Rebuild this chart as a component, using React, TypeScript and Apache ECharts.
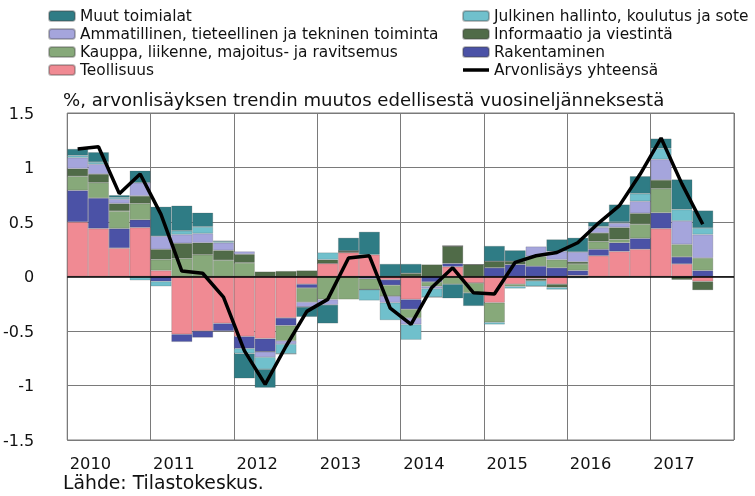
import React, { useEffect, useRef } from 'react';
import * as echarts from 'echarts';

const years = ['2010', '2011', '2012', '2013', '2014', '2015', '2016', '2017'];
const quarters = ['Q1', 'Q2', 'Q3', 'Q4'];
const categories = years.flatMap((y) => quarters.map((q) => `${y}${q}`));

// Contributions by industry (percentage points), 2010Q1 .. 2017Q3
const teollisuus = [0.50, 0.44, 0.26, 0.45, 0.055, -0.53, -0.50, -0.43, -0.55, -0.57, -0.38, -0.07, 0.12, 0.22, 0.20, -0.03, -0.21, 0, 0.09, -0.06, -0.24, -0.07, -0.02, -0.07, 0.01, 0.19, 0.23, 0.25, 0.44, 0.115, -0.045];
const rakentaminen = [0.29, 0.28, 0.18, 0.07, -0.045, -0.07, -0.06, -0.07, -0.11, -0.12, -0.07, -0.035, 0, 0, -0.02, -0.05, -0.09, -0.05, 0.03, 0, 0.08, 0.11, 0.095, 0.08, 0.045, 0.06, 0.08, 0.10, 0.145, 0.065, 0.055];
const kauppa = [0.13, 0.14, 0.16, 0.15, 0.10, 0.165, 0.20, 0.15, 0.125, 0, -0.14, -0.13, -0.21, -0.21, -0.10, -0.10, -0.08, -0.04, -0.07, -0.09, -0.18, -0.02, 0.09, 0.075, 0.06, 0.07, 0.03, 0.13, 0.22, 0.115, 0.115];
const informaatio = [0.07, 0.08, 0.07, 0.07, 0.095, 0.14, 0.11, 0.09, 0.08, 0.045, 0.05, 0.055, 0.035, 0.015, 0, 0, 0.03, 0.11, 0.16, 0.11, 0.06, 0.03, -0.02, -0.03, 0.02, 0.08, 0.11, 0.10, 0.08, -0.03, -0.08];
const ammatillinen = [0.10, 0.09, 0.04, 0.12, 0.12, 0.08, 0.085, 0.07, 0.025, -0.05, -0.03, -0.045, -0.05, 0, 0, -0.06, -0.06, -0.02, 0, 0, 0, 0, 0.09, 0.075, 0.09, 0.05, 0.04, 0.11, 0.19, 0.215, 0.215];
const julkinen = [0.02, 0.02, 0.015, -0.035, -0.045, 0.035, 0.06, 0.015, -0.045, -0.11, -0.09, 0, 0.065, 0, -0.10, -0.16, -0.14, -0.08, 0, 0, -0.02, -0.02, -0.05, -0.02, -0.015, 0.01, 0.01, 0.07, 0.10, 0.105, 0.06];
const muut = [0.06, 0.09, 0.02, 0.11, 0.27, 0.23, 0.13, 0, -0.23, -0.17, 0, -0.09, -0.17, 0.12, 0.21, 0.115, 0.085, 0, -0.13, -0.12, 0.14, 0.10, 0, 0.11, 0.13, 0.04, 0.16, 0.16, 0.09, 0.275, 0.16];
const yhteensa = [1.17, 1.19, 0.76, 0.94, 0.57, 0.05, 0.03, -0.19, -0.68, -0.99, -0.64, -0.32, -0.21, 0.17, 0.19, -0.29, -0.44, -0.10, 0.08, -0.15, -0.16, 0.13, 0.19, 0.22, 0.31, 0.49, 0.65, 0.94, 1.27, 0.85, 0.48];

const N_MUUT = 'Muut toimialat';
const N_JULK = 'Julkinen hallinto, koulutus ja sote';
const N_AMM = 'Ammatillinen, tieteellinen ja tekninen toiminta';
const N_INFO = 'Informaatio ja viestintä';
const N_KAUP = 'Kauppa, liikenne, majoitus- ja ravitsemus';
const N_RAK = 'Rakentaminen';
const N_TEOL = 'Teollisuus';
const N_TOT = 'Arvonlisäys yhteensä';

const TITLE = '%, arvonlisäyksen trendin muutos edellisestä vuosineljänneksestä';
const SOURCE = 'Lähde: Tilastokeskus.';

const FONT = '"DejaVu Sans", "Liberation Sans", Arial, sans-serif';
const LINE_ICON = 'path://M0,0 L0.01,0 L0,0.01 Z M0,3.3 L26,3.3 L26,6.7 L0,6.7 Z M26,10 L25.99,10 L26,9.99 Z';

export default function App() {
  const ref = useRef<HTMLDivElement>(null);
  useEffect(() => {
    const chart = echarts.init(ref.current as HTMLDivElement, null, { renderer: 'svg' });
    const bar = (name: string, color: string, data: number[]) => ({
      name,
      type: 'bar',
      stack: 'total',
      data,
      barCategoryGap: '0%',
      itemStyle: { color, borderColor: 'rgba(70,70,70,0.35)', borderWidth: 0.6 },
    });
    const legendText = { fontSize: 15.4, lineHeight: 18, color: '#111', fontFamily: FONT };
    chart.setOption({
      animation: false,
      textStyle: { fontFamily: FONT },
      title: {
        text: TITLE,
        left: 58,
        top: 85,
        textStyle: { fontSize: 18.1, fontWeight: 'normal', color: '#111', fontFamily: FONT },
      },
      legend: [
        {
          orient: 'vertical',
          left: 48,
          top: 7,
          padding: 0,
          itemWidth: 26,
          itemHeight: 10,
          itemGap: 0,
          data: [N_MUUT, N_AMM, N_KAUP, N_TEOL],
          textStyle: legendText,
        },
        {
          orient: 'vertical',
          left: 462,
          top: 7,
          padding: 0,
          itemWidth: 26,
          itemHeight: 10,
          itemGap: 0,
          data: [N_JULK, N_INFO, N_RAK, { name: N_TOT, icon: LINE_ICON }],
          textStyle: legendText,
        },
      ],
      grid: { left: 65, right: 21, top: 113, bottom: 56, show: true, borderColor: '#7a7a7a', borderWidth: 1 },
      xAxis: {
        type: 'category',
        data: categories,
        boundaryGap: true,
        axisLine: { show: false, onZero: false },
        axisTick: { show: false },
        splitLine: {
          show: true,
          interval: (i: number) => i % 4 === 0,
          lineStyle: { color: '#7a7a7a', width: 1 },
        },
        axisLabel: {
          interval: (i: number) => i % 4 === 1,
          formatter: (v: string) => v.slice(0, 4),
          fontSize: 16.3,
          margin: 15,
          padding: [0, 16, 0, 0],
          color: '#111',
          fontFamily: FONT,
        },
      },
      yAxis: {
        type: 'value',
        min: -1.5,
        max: 1.5,
        interval: 0.5,
        axisLine: { show: false },
        axisTick: { show: false },
        splitLine: { show: true, lineStyle: { color: '#7a7a7a', width: 1 } },
        axisLabel: { fontSize: 16, margin: 33, color: '#111', fontFamily: FONT },
      },
      graphic: [
        {
          type: 'text',
          left: 63,
          top: 473,
          style: { text: SOURCE, fontSize: 18.8, fill: '#111', fontFamily: FONT },
        },
      ],
      series: [
        bar(N_TEOL, '#f08a93', teollisuus),
        bar(N_RAK, '#4b52a6', rakentaminen),
        bar(N_KAUP, '#87a97a', kauppa),
        bar(N_INFO, '#506b48', informaatio),
        bar(N_AMM, '#a5a5dc', ammatillinen),
        bar(N_JULK, '#70c0cc', julkinen),
        bar(N_MUUT, '#2f7c85', muut),
        {
          name: N_TOT,
          type: 'line',
          data: yhteensa,
          symbol: 'none',
          lineStyle: { color: '#000', width: 3.5 },
          itemStyle: { color: '#000' },
          z: 5,
          markLine: {
            silent: true,
            symbol: 'none',
            label: { show: false },
            lineStyle: { color: '#000', width: 1.5, type: 'solid' },
            data: [{ yAxis: 0 }],
          },
        },
      ],
    });
    return () => chart.dispose();
  }, []);
  return <div ref={ref} style={{ position: 'fixed', left: 0, top: 0, width: 755, height: 496 }} />;
}
